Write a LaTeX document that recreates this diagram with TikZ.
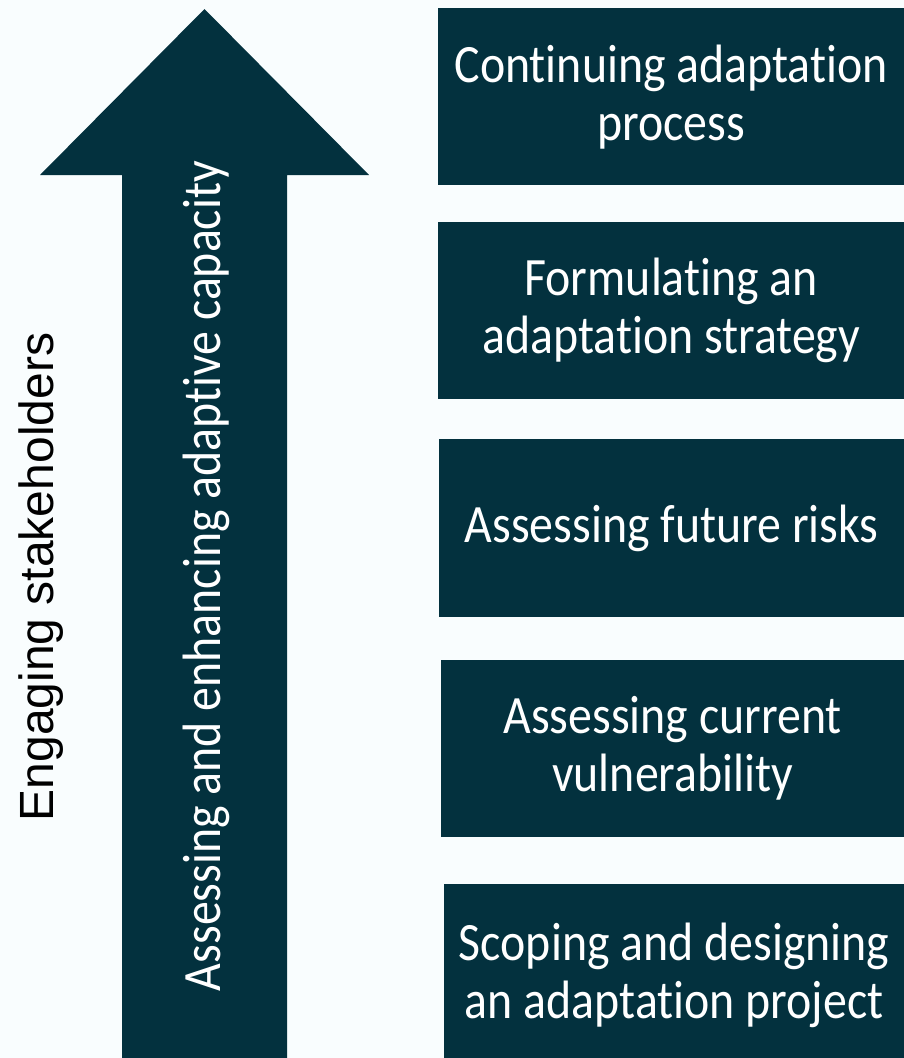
\documentclass[tikz,border=0pt]{standalone}
\usepackage{fontspec}
\setmainfont{Carlito}
\newfontfamily\boxfont[FakeStretch=0.886,RawFeature={-liga;-clig;-dlig;-calt}]{Carlito}
\newfontfamily\sidefont{Liberation Sans}
\definecolor{boxcol}{RGB}{3,49,62}
\definecolor{bgcol}{RGB}{249,253,254}
\newcommand\stepfont{\boxfont\fontsize{54}{58}\selectfont\lineskiplimit-100pt\relax\lineskip0pt\relax}
\begin{document}
\begin{tikzpicture}[x=1pt,y=-1pt,
  stepbox/.style={fill=boxcol, draw=none, anchor=north west, inner sep=0pt,
    text=white, align=center, font=\stepfont},
  uptext/.style={rotate=90, anchor=base, inner sep=0pt}
 ]
\useasboundingbox (0,0) rectangle (904,1058);
\fill[bgcol] (0,0) rectangle (904,1058);
\clip (0,0) rectangle (904,1058);
% arrow
\fill[boxcol] (122,1070) -- (122,175) -- (40,175) -- (204.5,9) -- (369,175)
  -- (287,175) -- (287,1070) -- cycle;
\node[uptext, text=white, font=\boxfont\fontsize{54}{60}\selectfont] (capacity) at (220,576)
  {Assessing and enhancing adaptive capacity};
\node[uptext, text=black, font=\sidefont\fontsize{48}{56}\selectfont] (stake) at (53,577)
  {Engaging stakeholders};
% boxes
\node[stepbox, minimum width=466pt, minimum height=177pt] (b1) at (438,8)
  {Continuing adaptation\\process};
\node[stepbox, minimum width=466pt, minimum height=177pt] (b2) at (438,222)
  {Formulating an\\adaptation strategy};
\node[stepbox, minimum width=465pt, minimum height=178pt] (b3) at (439,439)
  {Assessing future risks};
\node[stepbox, minimum width=463pt, minimum height=177pt] (b4) at (441,660)
  {Assessing current\\vulnerability};
\node[stepbox, minimum width=460pt, minimum height=182pt] (b5) at (444,884)
  {Scoping and designing\\an adaptation project};
\end{tikzpicture}
\end{document}
